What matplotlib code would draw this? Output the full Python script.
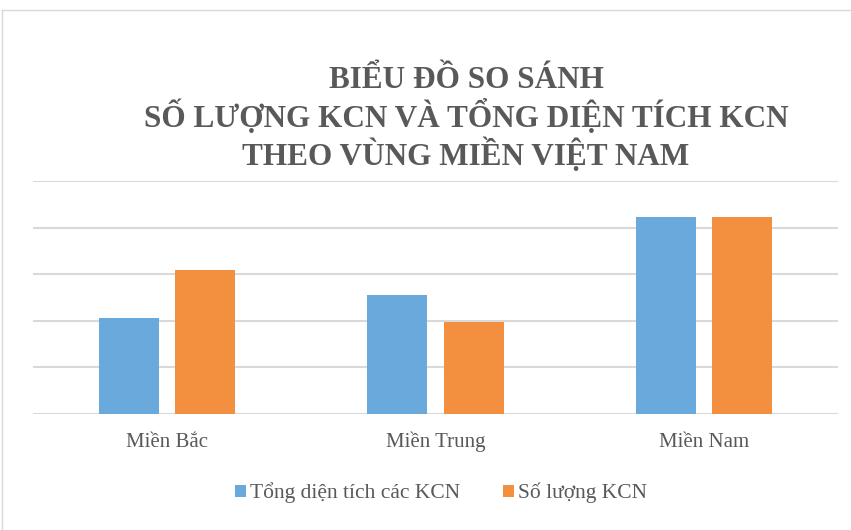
import matplotlib.pyplot as plt
import numpy as np
from matplotlib.lines import Line2D

# data (gridline units)
regions = ['Miền Bắc', 'Miền Trung', 'Miền Nam']
area_total = [2.06, 2.55, 4.22]
park_count = [3.08, 1.97, 4.22]
series_names = ['Tổng diện tích các KCN', 'Số lượng KCN']
title = 'BIỂU ĐỒ SO SÁNH\nSỐ LƯỢNG KCN VÀ TỔNG DIỆN TÍCH KCN\nTHEO VÙNG MIỀN VIỆT NAM'

blue = '#6AA9DB'
orange = '#F2903F'
text_gray = '#595959'
grid_gray = '#D9D9D9'

plt.rcParams['font.family'] = ['Liberation Serif', 'DejaVu Serif']

fig = plt.figure(figsize=(8.51, 5.30), dpi=100)
ax = fig.add_axes((33 / 851, 1 - 414 / 530, 805 / 851, 233 / 530))

x = np.arange(len(regions))
width = 0.224
offset = 0.142
ax.bar(x - offset, area_total, width, color=blue, label=series_names[0], zorder=3)
ax.bar(x + offset, park_count, width, color=orange, label=series_names[1], zorder=3)

ax.set_xlim(-0.5, 2.5)
ax.set_ylim(0, 5)
ax.set_yticks(range(0, 6))
ax.yaxis.grid(True, color=grid_gray, linewidth=1.5, zorder=0)
ax.set_yticklabels([])
ax.tick_params(axis='y', length=0)
ax.set_xticks(x)
ax.set_xticklabels(regions, fontsize=15, color=text_gray)
ax.tick_params(axis='x', length=0, pad=24)
for lbl in ax.get_xticklabels():
    lbl.set_va('baseline')
for s in ax.spines.values():
    s.set_visible(False)

fig.text(466 / 851, 1 - 119 / 530, title, ha='center', va='center',
         fontsize=22.5, fontweight='bold', color=text_gray, linespacing=1.15)

fig.legend(loc='center', bbox_to_anchor=(441 / 851, 1 - 493 / 530), ncol=2,
           frameon=False, fontsize=15.5, labelcolor=text_gray,
           handlelength=0.5, handleheight=0.5, handletextpad=0.2, columnspacing=2.0)

# light outer chart border (top and left visible)
fig.add_artist(Line2D([2 / 851, 1], [1 - 10 / 530, 1 - 10 / 530], color='#D9D9D9', linewidth=1))
fig.add_artist(Line2D([2 / 851, 2 / 851], [0, 1 - 10 / 530], color='#D9D9D9', linewidth=1))

fig.savefig('out.png', dpi=100)
